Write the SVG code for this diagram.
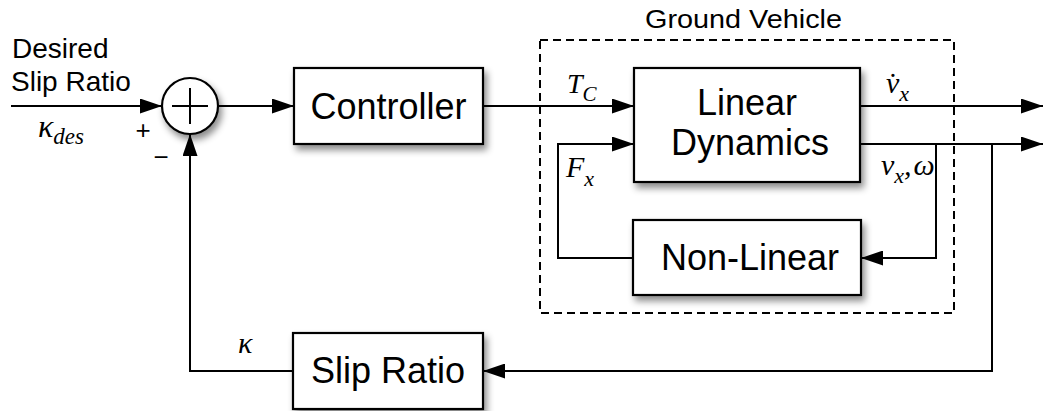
<svg xmlns="http://www.w3.org/2000/svg" width="1044" height="411" viewBox="0 0 1044 411">
  <defs>
    <marker id="arrow" markerUnits="userSpaceOnUse" markerWidth="22" markerHeight="15" refX="22" refY="7.5" orient="auto">
      <path d="M0,0 L22,7.5 L0,15 z" fill="#000"/>
    </marker>
    <filter id="shadow" x="-20%" y="-20%" width="150%" height="160%">
      <feDropShadow dx="3" dy="5" stdDeviation="3.5" flood-color="#000" flood-opacity="0.45"/>
    </filter>
    <style>
      .box { fill: #fff; stroke: #000; stroke-width: 2.2; filter: url(#shadow); }
      .wire { fill: none; stroke: #000; stroke-width: 2; }
      .arr { marker-end: url(#arrow); }
      .lbl { font-family: "Liberation Sans", Arial, sans-serif; fill: #000; }
      .big { font-size: 36px; text-anchor: middle; }
      .math { font-family: "Liberation Serif", "Times New Roman", serif; font-style: italic; fill: #000; }
    </style>
  </defs>

  <!-- Ground Vehicle subsystem boundary -->
  <g id="ground-vehicle">
    <rect x="540" y="40" width="414" height="273" fill="none" stroke="#000" stroke-width="2" stroke-dasharray="8,5"/>
    <text class="lbl" x="645" y="28" font-size="26" textLength="197" lengthAdjust="spacingAndGlyphs">Ground Vehicle</text>
  </g>

  <!-- Signal connectors -->
  <g id="connectors">
    <line class="wire arr" x1="11" y1="106" x2="162" y2="106"/>
    <line class="wire arr" x1="218" y1="106" x2="294" y2="106"/>
    <line class="wire arr" x1="483" y1="106" x2="634" y2="106"/>
    <polyline class="wire arr" points="633,258 558,258 558,144 634,144"/>
    <line class="wire arr" x1="860" y1="106" x2="1043" y2="106"/>
    <line class="wire arr" x1="860" y1="144" x2="1043" y2="144"/>
    <polyline class="wire arr" points="936,144 936,258 861,258"/>
    <polyline class="wire arr" points="992,144 992,371 483,371"/>
    <polyline class="wire arr" points="293,371 190,371 190,134"/>
  </g>

  <!-- Summing junction -->
  <g id="sum">
    <circle cx="190" cy="106" r="28" fill="#fff" stroke="#000" stroke-width="2.2" filter="url(#shadow)"/>
    <line class="wire" x1="172" y1="106" x2="208" y2="106"/>
    <line class="wire" x1="190" y1="88" x2="190" y2="124"/>
    <text class="lbl" x="143" y="139" font-size="26" text-anchor="middle">+</text>
    <text class="lbl" x="161" y="166" font-size="26" text-anchor="middle">−</text>
  </g>

  <!-- Reference input -->
  <g id="input">
    <text class="lbl" x="12" y="58" font-size="28">Desired</text>
    <text class="lbl" x="11" y="91" font-size="28">Slip Ratio</text>
    <text class="math" x="38" y="137" font-size="32">κ<tspan font-size="23" dy="7">des</tspan></text>
  </g>

  <g id="controller">
    <rect class="box" x="294" y="68" width="189" height="76"/>
    <text class="lbl big" x="388.5" y="119">Controller</text>
  </g>

  <g id="linear-dynamics">
    <rect class="box" x="634" y="68" width="226" height="114"/>
    <text class="lbl big" x="747" y="115">Linear</text>
    <text class="lbl big" x="750" y="155">Dynamics</text>
  </g>

  <g id="non-linear">
    <rect class="box" x="633" y="220" width="228" height="75"/>
    <text class="lbl big" x="750" y="270">Non-Linear</text>
  </g>

  <g id="slip-ratio">
    <rect class="box" x="293" y="333" width="190" height="76"/>
    <text class="lbl big" x="388" y="383">Slip Ratio</text>
  </g>

  <!-- Signal labels -->
  <g id="signal-labels">
    <text class="math" x="567" y="93" font-size="28">T<tspan font-size="21" dy="8">C</tspan></text>
    <text class="math" x="566" y="177" font-size="30">F<tspan font-size="22" dy="9">x</tspan></text>
    <text class="math" x="886" y="93" font-size="30">v&#x307;<tspan font-size="22" dy="8">x</tspan></text>
    <text class="math" x="881" y="175" font-size="30">v<tspan font-size="22" dy="8">x</tspan><tspan dy="-8">,</tspan><tspan dx="2">ω</tspan></text>
    <text class="math" x="238" y="353" font-size="30">κ</text>
  </g>
</svg>
